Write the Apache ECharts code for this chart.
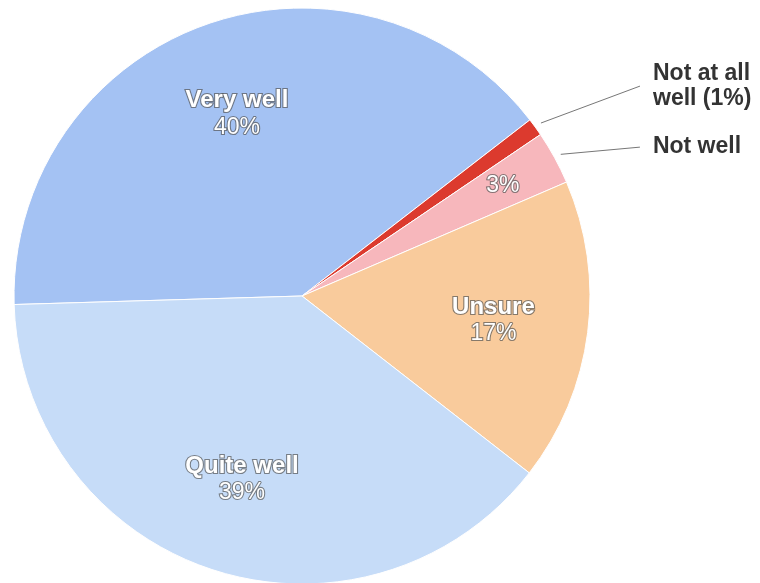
<!DOCTYPE html>
<html><head><meta charset="utf-8">
<script src="https://cdn.jsdelivr.net/npm/echarts@6/dist/echarts.min.js"></script>
<style>html,body{margin:0;padding:0;background:#fff}#c{width:760px;height:583px}</style>
</head><body><div id="c"></div>
<script>
// ---- data ----
const categories = ['Very well', 'Not at all well', 'Not well', 'Unsure', 'Quite well'];
const values = [40, 1, 3, 17, 39];
const outerLabelText = ['', 'Not at all\nwell', 'Not well', '', ''];
const outerShowPercent = [false, true, false, false, false];
const insideNameLabel = [true, false, false, true, true];
const insidePctOnly = [false, false, true, false, false];

// ---- styles ----
const colors = ['#a4c2f3', '#dc3a2e', '#f7b7bc', '#f9cb9c', '#c6dcf8'];
const lineLen = [0, 70, 22, 0, 0];
const lineLen2 = [0, 56, 74, 0, 0];
const FONT = 'Liberation Sans, Arial, sans-serif';
const CENTER = [302, 296];
const R = 288;
const START = 181.7;

const total = values.reduce((a, b) => a + b, 0);
const pct = v => Math.round(v / total * 100);

const whiteText = {
  color: '#fff', fontFamily: FONT,
  textBorderColor: 'rgba(85,85,85,0.7)', textBorderWidth: 2.2
};

const mainData = categories.map((c, i) => {
  const show = outerLabelText[i] !== '';
  return {
    name: c, value: values[i],
    itemStyle: { color: colors[i] },
    label: { show: show },
    labelLine: { show: show, length: lineLen[i], length2: lineLen2[i] }
  };
});

const transparentItem = { color: 'rgba(0,0,0,0)', borderWidth: 0 };

const nameLabelData = categories.map((c, i) => ({
  name: c, value: values[i], itemStyle: transparentItem,
  label: { show: insideNameLabel[i] }
}));
const pctLabelData = categories.map((c, i) => ({
  name: c, value: values[i], itemStyle: transparentItem,
  label: { show: insidePctOnly[i] }
}));

const chart = echarts.init(document.getElementById('c'), null, { renderer: 'canvas' });
chart.setOption({
  animation: false,
  backgroundColor: '#fff',
  series: [
    {
      type: 'pie', center: CENTER, radius: R, startAngle: START, clockwise: true,
      avoidLabelOverlap: false, silent: true,
      itemStyle: { borderColor: '#fff', borderWidth: 1 },
      label: {
        position: 'outside', distanceToLabelLine: 5,
        fontFamily: FONT, fontWeight: 'bold', fontSize: 23, lineHeight: 25, color: '#333',
        formatter: p => outerLabelText[p.dataIndex] + (outerShowPercent[p.dataIndex] ? ' (' + pct(p.value) + '%)' : '')
      },
      labelLine: { lineStyle: { color: '#777', width: 1 } },
      labelLayout: function (params) {
        const p = params.labelLinePoints;
        if (!p || p.length < 3) return {};
        const a = p[0], b = p[1], c = p[2];
        const dx = b[0] - a[0], dy = b[1] - a[1];
        const len = Math.hypot(dx, dy) || 1;
        const t = 7 / len;
        return { labelLinePoints: [[a[0] + dx * t, a[1] + dy * t], [c[0] - 8, c[1]]] };
      },
      data: mainData
    },
    {
      type: 'pie', center: CENTER, radius: [92, R], startAngle: START, clockwise: true,
      avoidLabelOverlap: false, silent: true, emphasis: { disabled: true },
      label: {
        position: 'inside',
        formatter: p => '{n|' + p.name + '}\n{p|' + pct(p.value) + '%}',
        rich: {
          n: Object.assign({ fontWeight: 'bold', fontSize: 24, lineHeight: 27 }, whiteText),
          p: Object.assign({ fontWeight: 'normal', fontSize: 23, lineHeight: 27 }, whiteText)
        }
      },
      labelLine: { show: false },
      data: nameLabelData
    },
    {
      type: 'pie', center: CENTER, radius: [164, R], startAngle: START, clockwise: true,
      avoidLabelOverlap: false, silent: true, emphasis: { disabled: true },
      label: Object.assign({
        position: 'inside', fontWeight: 'normal', fontSize: 23,
        formatter: p => pct(p.value) + '%'
      }, whiteText),
      labelLine: { show: false },
      data: pctLabelData
    }
  ]
});
</script>
</body></html>
